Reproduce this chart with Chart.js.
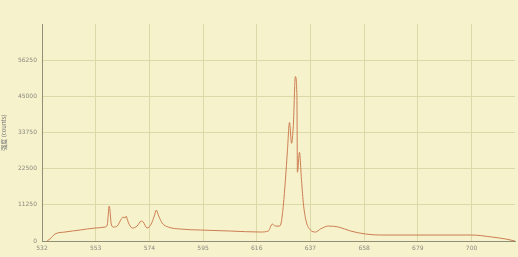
<!DOCTYPE html>
<html lang="zh">
<head>
  <meta charset="UTF-8">
  <title>Spectrum</title>
  <script src="https://cdn.jsdelivr.net/npm/chart.js"></script>
  <style>
    html, body {
      margin: 0;
      padding: 0;
      background: #f6f2cb;
    }
    #wrap {
      width: 518px;
      height: 257px;
    }
  </style>
</head>
<body>
  <div id="wrap"><canvas id="spec"></canvas></div>

  <script>
    // wavelength (nm) and intensity
    const wavelength = [
      534, 535.1, 537.1, 541, 546.9, 552.8, 556.7, 557.5, 558.3, 559.1,
      559.9, 561.4, 563, 563.7, 564.5, 564.9, 565.7, 567.3, 569.2, 570.8,
      571.6, 573.1, 574.7, 575.9, 576.7, 577.5, 579, 581.4, 586.1, 593.9,
      605.7, 617.4, 620.5, 622.1, 623.3, 624.9, 625.6, 626.4, 627.2, 628,
      628.8, 629.6, 630.3, 631.1, 631.7, 631.9, 632.7, 633.5, 634.3, 635.4,
      637, 639, 640.9, 644, 648, 652.7, 658.6, 664.4, 682.1, 700.1,
      707.9, 713.4, 717
    ];
    const intensity = [
      0, 620, 2170, 2790, 3410, 4030, 4340, 4960, 10850, 5270,
      4340, 4650, 6820, 7440, 7130, 7750, 5890, 4030, 4650, 6200,
      5890, 4030, 5270, 7750, 9610, 8060, 5580, 4340, 3720, 3410,
      3100, 2790, 3100, 5270, 4650, 4650, 5890, 11160, 18910, 28210,
      36890, 30380, 35960, 51150, 45260, 21390, 27590, 18910, 11160, 5890,
      3410, 2790, 3720, 4650, 4340, 3100, 2170, 1860, 1860, 1860,
      1240, 620, 0
    ];
    const xTicks = [532, 553, 574, 595, 616, 637, 658, 679, 700];
    const yTicks = [0, 11250, 22500, 33750, 45000, 56250, 67500];

    const points = wavelength.map((w, i) => ({ x: w, y: intensity[i] }));

    const ctx = document.getElementById('spec').getContext('2d');
    new Chart(ctx, {
      type: 'line',
      data: {
        datasets: [{
          data: points,
          borderColor: '#cc7d52',
          borderWidth: 1,
          pointRadius: 0,
          fill: false,
          cubicInterpolationMode: 'monotone'
        }]
      },
      options: {
        responsive: true,
        maintainAspectRatio: false,
        animation: false,
        layout: { padding: { top: 24, right: 3, left: 0, bottom: 0 } },
        plugins: {
          legend: { display: false },
          tooltip: { enabled: false }
        },
        scales: {
          x: {
            type: 'linear',
            min: 532,
            max: 717,
            afterBuildTicks: axis => { axis.ticks = xTicks.map(v => ({ value: v })); },
            afterFit: axis => { axis.height = 16; },
            grid: {
              color: '#ddd8a8',
              drawTicks: false
            },
            border: { color: '#8f8f78', width: 1 },
            ticks: {
              color: '#8a8a80',
              font: { size: 6, family: 'DejaVu Sans' },
              padding: 4,
              maxRotation: 0
            }
          },
          y: {
            min: 0,
            max: 67500,
            afterBuildTicks: axis => { axis.ticks = yTicks.map(v => ({ value: v })); },
            afterFit: axis => { axis.width = 42; },
            grid: {
              color: c => c.tick.value === 67500 ? 'rgba(0,0,0,0)' : '#ddd8a8',
              drawTicks: false
            },
            border: { color: '#8f8f78', width: 1 },
            title: {
              display: true,
              text: '强度 (counts)',
              color: '#777',
              font: { size: 6, family: 'Noto Sans CJK SC' },
              padding: 0
            },
            ticks: {
              color: '#8a8a80',
              font: { size: 6, family: 'DejaVu Sans' },
              padding: 5,
              callback: v => v === 67500 ? '' : v
            }
          }
        }
      }
    });
  </script>
</body>
</html>
